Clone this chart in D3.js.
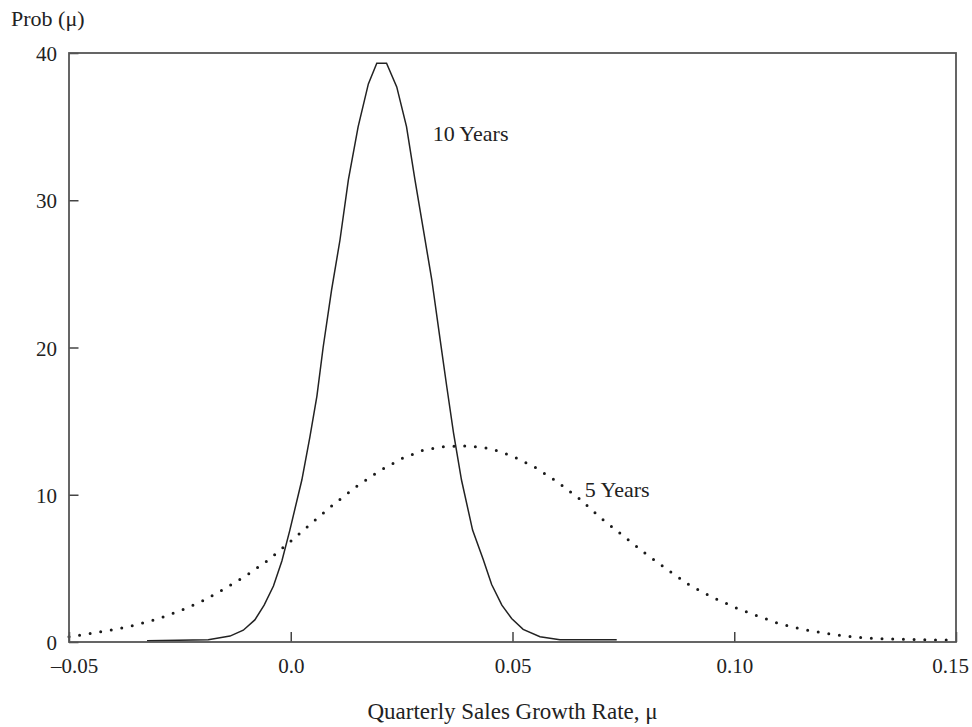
<!DOCTYPE html>
<html>
<head>
<meta charset="utf-8">
<script src="https://cdn.jsdelivr.net/npm/d3@7"></script>
<style>
  body { margin: 0; background: #fff; }
  text { font-family: "Liberation Serif", "Times New Roman", serif; fill: #222; }
</style>
</head>
<body>
<svg id="drawing_region"></svg>
<script>
// growth rate (x) and density (y)
const tenYearsX = [-0.0324, -0.0186, -0.0137, -0.0107, -0.0081, -0.0060, -0.0039, -0.0020, -0.0002,
    0.0025, 0.0043, 0.0059, 0.0073, 0.0092, 0.0111, 0.0130, 0.0152, 0.0175, 0.0194, 0.0216,
    0.0239, 0.0261, 0.0280, 0.0299, 0.0318, 0.0337, 0.0352, 0.0367, 0.0385, 0.0410, 0.0434,
    0.0453, 0.0476, 0.0498, 0.0524, 0.0562, 0.0607, 0.0735];
const tenYearsY = [0.08, 0.15, 0.4, 0.8, 1.5, 2.5, 3.8, 5.5, 7.6,
    11.0, 13.9, 16.7, 20.0, 23.9, 27.3, 31.4, 35.0, 37.9, 39.3, 39.3,
    37.7, 35.0, 31.4, 28.0, 24.6, 20.5, 17.3, 14.2, 11.0, 7.6, 5.6,
    3.9, 2.5, 1.6, 0.86, 0.36, 0.15, 0.15];

const fiveYearsX = [-0.050, -0.045, -0.040, -0.035, -0.030, -0.025, -0.020, -0.015, -0.010, -0.005,
    0.000, 0.005, 0.010, 0.015, 0.020, 0.025, 0.030, 0.035, 0.040, 0.045,
    0.050, 0.055, 0.060, 0.065, 0.070, 0.075, 0.080, 0.085, 0.090, 0.095,
    0.100, 0.105, 0.110, 0.115, 0.120, 0.125, 0.130, 0.135, 0.140, 0.145, 0.150];
const fiveYearsY = [0.35, 0.59, 0.84, 1.15, 1.57, 2.12, 2.77, 3.6, 4.52, 5.58,
    6.85, 8.16, 9.43, 10.6, 11.62, 12.45, 13.05, 13.28, 13.32, 13.15,
    12.63, 11.88, 10.9, 9.75, 8.4, 7.2, 6.0, 4.9, 3.85, 3.05,
    2.37, 1.8, 1.26, 0.89, 0.62, 0.41, 0.27, 0.2, 0.17, 0.14, 0.14];

const xTicks = [-0.05, 0, 0.05, 0.10, 0.15];
const xTickLabels = ['\u20130.05', '0.0', '0.05', '0.10', '0.15'];
const yTicks = [0, 10, 20, 30, 40];
const yTickLabels = ['0', '10', '20', '30', '40'];

// curve labels, placed in data units
const seriesLabels = ['10 Years', '5 Years'];
const labelX = [0.0320, 0.0663];
const labelY = [34.0, 9.83];

class DensityPlot {
    constructor( config ) {
        this.config = {
            parent: config.parent,
            width: config.width || 256,
            height: config.height || 256,
            margin: config.margin || {top:10, right:10, bottom:10, left:10}
        };
        this.init();
    }

    init() {
        let self = this;

        self.svg = d3.select( self.config.parent )
            .attr('width', self.config.width)
            .attr('height', self.config.height);

        self.chart = self.svg.append('g')
            .attr('transform', `translate(${self.config.margin.left}, ${self.config.margin.top})`);

        self.inner_width = self.config.width - self.config.margin.left - self.config.margin.right;
        self.inner_height = self.config.height - self.config.margin.top - self.config.margin.bottom;

        self.xscale = d3.scaleLinear()
            .domain([-0.05, 0.15])
            .range([0, self.inner_width]);

        self.yscale = d3.scaleLinear()
            .domain([0, 40])
            .range([self.inner_height, 0]);

        self.xaxis = d3.axisBottom( self.xscale )
            .tickValues( xTicks )
            .tickFormat( (d, i) => xTickLabels[i] )
            .tickSizeInner(-10)
            .tickSizeOuter(0)
            .tickPadding(16);

        self.yaxis = d3.axisLeft( self.yscale )
            .tickValues( yTicks )
            .tickFormat( (d, i) => yTickLabels[i] )
            .tickSizeInner(-9.5)
            .tickSizeOuter(0)
            .tickPadding(12);

        self.xaxis_group = self.chart.append('g')
            .attr('transform', `translate(0, ${self.inner_height})`);
        self.yaxis_group = self.chart.append('g');
    }

    render() {
        let self = this;

        const line = d3.line()
            .x( d => self.xscale(d[0]) )
            .y( d => self.yscale(d[1]) );

        const ten = tenYearsX.map( (x, i) => [x, tenYearsY[i]] );
        const five = fiveYearsX.map( (x, i) => [x, fiveYearsY[i]] );

        self.chart.append('path')
            .datum(five)
            .attr('d', line)
            .attr('fill', 'none')
            .attr('stroke', '#1a1a1a')
            .attr('stroke-width', 3)
            .attr('stroke-linecap', 'round')
            .attr('stroke-dasharray', '0 10.7');

        self.chart.append('path')
            .datum(ten)
            .attr('d', line)
            .attr('fill', 'none')
            .attr('stroke', '#222')
            .attr('stroke-width', 1.5);

        // frame
        self.chart.append('rect')
            .attr('width', self.inner_width)
            .attr('height', self.inner_height)
            .attr('fill', 'none')
            .attr('stroke', '#555')
            .attr('stroke-width', 1.8);

        self.xaxis_group.call( self.xaxis );
        self.yaxis_group.call( self.yaxis );

        [self.xaxis_group, self.yaxis_group].forEach( g => {
            g.select('.domain').remove();
            g.selectAll('.tick line').attr('stroke', '#444').attr('stroke-width', 1.5);
            g.selectAll('.tick text')
                .attr('fill', '#222')
                .style('font-family', '"Liberation Serif", serif')
                .style('font-size', '21px');
        });
        self.yaxis_group.selectAll('.tick text').attr('dy', '0.36em');
        // end labels pulled inward like the original
        self.xaxis_group.selectAll('.tick text')
            .attr('dx', (d, i) => i === 0 ? 5 : (i === xTicks.length - 1 ? -6 : 0));

        self.chart.selectAll('.series-label')
            .data(seriesLabels)
            .enter()
            .append('text')
            .attr('class', 'series-label')
            .attr('x', (d, i) => self.xscale(labelX[i]))
            .attr('y', (d, i) => self.yscale(labelY[i]))
            .style('font-size', '22px')
            .text(d => d);

        self.svg.append('text')
            .attr('x', 11)
            .attr('y', 26)
            .style('font-size', '22px')
            .text('Prob (\u03bc)');

        self.svg.append('text')
            .attr('x', self.config.margin.left + self.inner_width / 2)
            .attr('y', 719)
            .attr('text-anchor', 'middle')
            .style('font-size', '23px')
            .text('Quarterly Sales Growth Rate, \u03bc');
    }
}

const plot = new DensityPlot({
    parent: '#drawing_region',
    width: 972,
    height: 727,
    margin: {top:53, right:16, bottom:85, left:69}
});
plot.render();
</script>
</body>
</html>
